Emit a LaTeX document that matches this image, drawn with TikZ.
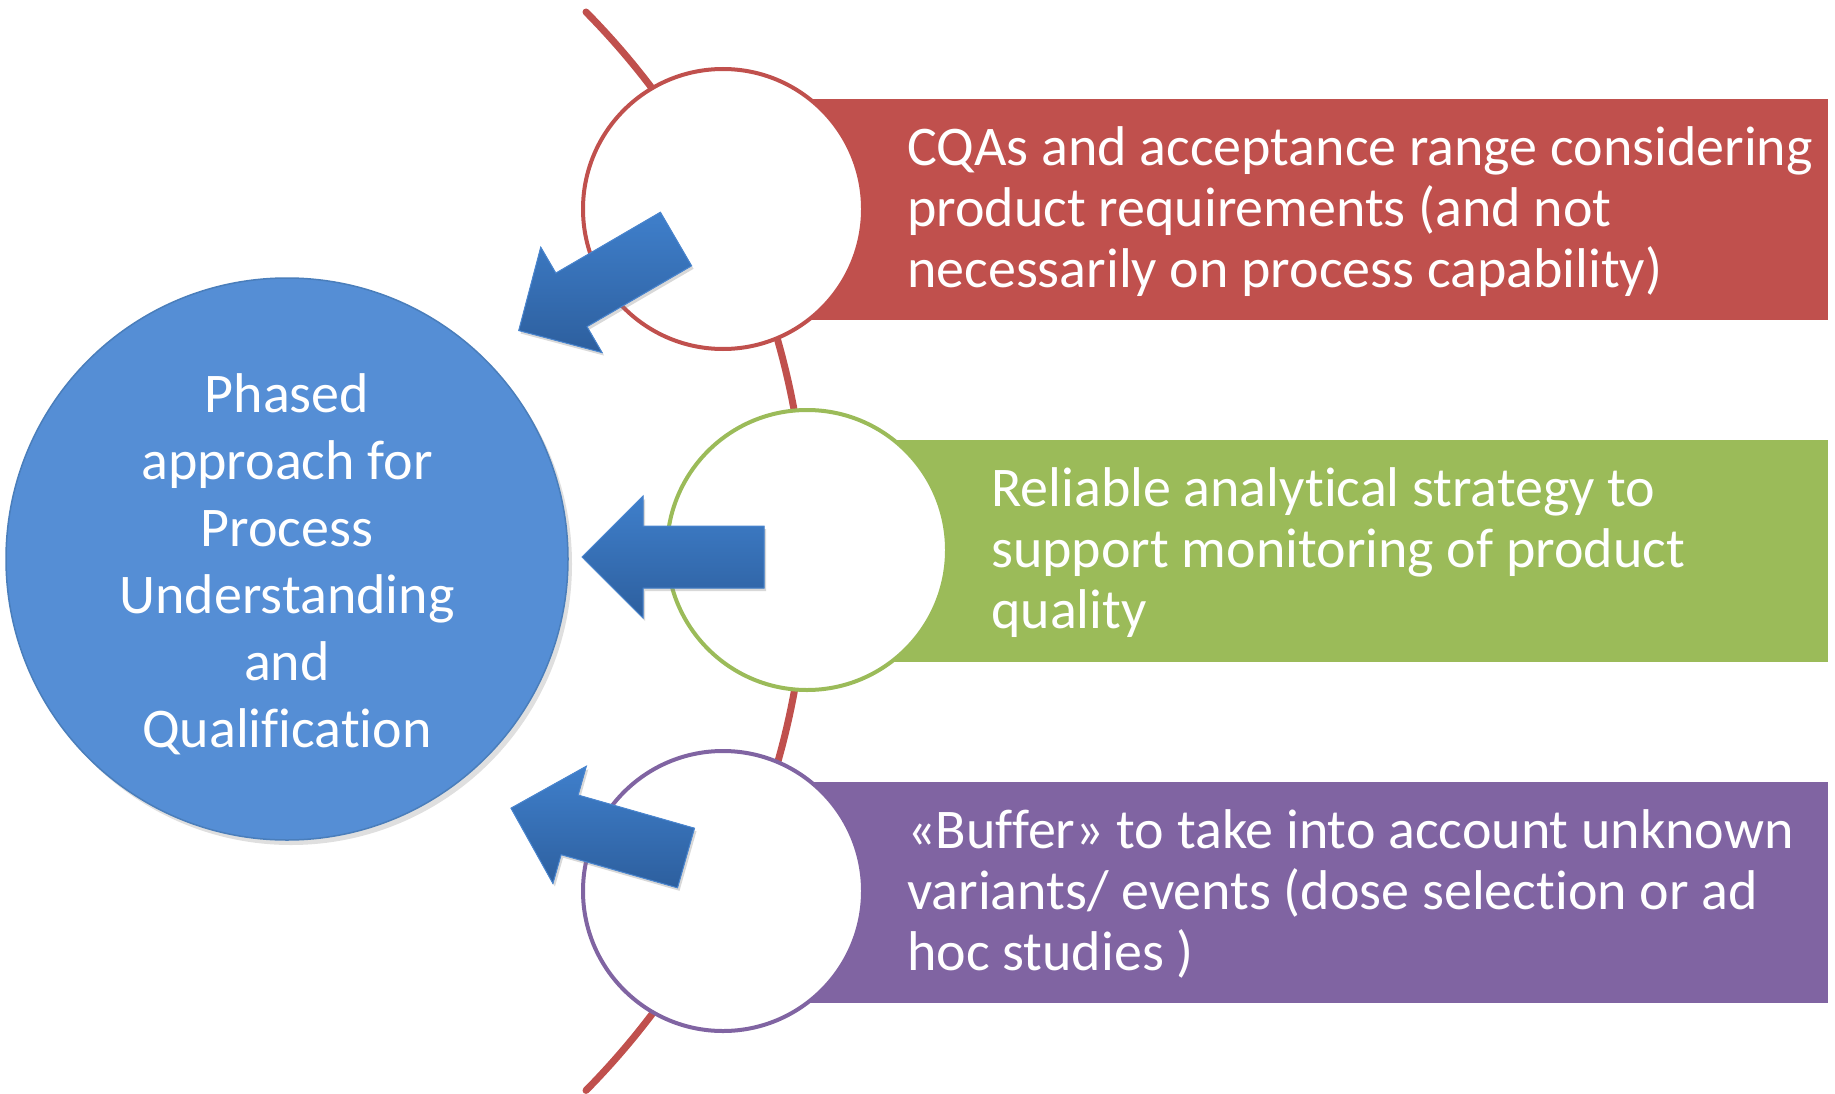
\documentclass[tikz,border=0pt]{standalone}
\usepackage{fontspec}
\setmainfont{Carlito}[Ligatures=NoCommon]
\usetikzlibrary{shadows}
\definecolor{boxred}{HTML}{C0504D}
\definecolor{boxgreen}{HTML}{9BBB59}
\definecolor{boxpurple}{HTML}{8064A2}
\definecolor{hubblue}{HTML}{558ED5}
\definecolor{hubedge}{HTML}{4A7EBB}
\definecolor{arrowtop}{HTML}{3F7FCB}
\definecolor{arrowbot}{HTML}{2D5F9E}
\definecolor{arrowedge}{HTML}{4A86D0}
\tikzset{
    hub/.style = {circle, fill=hubblue, draw=hubedge, line width=1.5pt,
        minimum size=562pt, inner sep=0pt,
        drop shadow={shadow xshift=4pt, shadow yshift=-5pt, opacity=0.25}},
    hubtext/.style = {text=white, align=center, inner sep=0pt,
        font=\fontsize{56}{67}\selectfont},
    ring/.style = {circle, fill=white, line width=4pt, minimum size=280pt, inner sep=0pt},
    band/.style = {anchor=west, text=white, align=left, inner sep=0pt,
        font=\fontsize{56}{61}\selectfont},
    blockarrow/.pic = {
        \filldraw[draw=arrowedge, line width=1pt, top color=arrowtop, bottom color=arrowbot,
            drop shadow={shadow xshift=2pt, shadow yshift=-3pt, opacity=0.3}]
            (0,-31) -- (121,-31) -- (121,-61) -- (182,0) -- (121,61) -- (121,31) -- (0,31) -- cycle;
    }
}
\begin{document}
\begin{tikzpicture}[x=1pt, y=-1pt]
    \useasboundingbox (0,0) rectangle (1835,1094);

    \draw[boxred, line width=7pt, line cap=round] (586,12) arc[start angle=-44.6, end angle=44.6, radius=768];

    \fill[boxred] (723,99) rectangle (1828,320);
    \fill[boxgreen] (807,440) rectangle (1828,662);
    \fill[boxpurple] (723,782) rectangle (1828,1003);

    \node[ring, draw=boxred] (r1) at (723,209) {};
    \node[ring, draw=boxgreen] (r2) at (807,550) {};
    \node[ring, draw=boxpurple] (r3) at (723,891) {};

    \node[hub] (hub) at (287,559) {};
    \node[hubtext] (hubtext) at (287,564) {Phased\\approach for\\Process\\Understanding\\and\\Qualification};

    \pic[rotate=210.2] at (676,239) {blockarrow};
    \pic[rotate=180] at (764,557) {blockarrow};
    \pic[rotate=164.1] at (686,858) {blockarrow};

    \node[band] (t1) at (907,212) {CQAs and acceptance range considering\\product requirements (and not\\necessarily on process capability)};
    \node[band] (t2) at (991,553) {Reliable analytical strategy to\\support monitoring of product\\quality};
    \node[band] (t3) at (907,894) {«Buffer» to take into account unknown\\variants/ events (dose selection or ad\\hoc studies )};
\end{tikzpicture}
\end{document}
